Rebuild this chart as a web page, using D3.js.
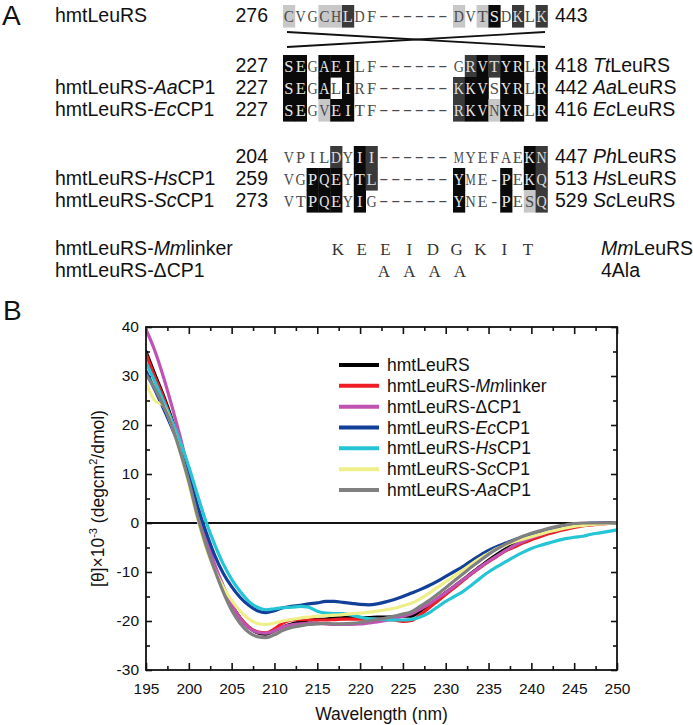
<!DOCTYPE html>
<html><head><meta charset="utf-8">
<script src="https://cdn.jsdelivr.net/npm/d3@7"></script>
<style>
body{margin:0;background:#fff}
svg{display:block}
text{font-family:"Liberation Sans",Arial,sans-serif;fill:#111}
</style>
</head><body>
<svg id="c" width="693" height="725"></svg>
<script>
// ---------------- DATA ----------------
// Panel A: alignment (odd indices of label arrays are italic)
const alnLabels = [["hmtLeuRS"], null, ["hmtLeuRS-","Aa","CP1"], ["hmtLeuRS-","Ec","CP1"], null, ["hmtLeuRS-","Hs","CP1"], ["hmtLeuRS-","Sc","CP1"]];
const alnStart = ["276","227","227","227","204","259","273"];
const alnLeft = ["CVGCHLDF","SEGAEILF","SEGALIRF","SEGVEITF","VPILDYII","VGPQEYTL","VTPQEYIG"];
const alnLeftShade = ["10011200","33033300","33030300","33013300","00002032","00333032","00333030"];
const alnRight = ["DVTSDKLK","GRVTYRLR","KKVSYRLR","RKVNYRLR","MYEFAEKN","YME-PEKQ","YNE-PESQ"];
const alnRightShade = ["10130202","02323303","23303303","23313303","00000032","30003032","30003012"];
const alnEnd = ["443","418","442","416","447","513","529"];
const alnSpecies = [null, ["","Tt","LeuRS"], ["","Aa","LeuRS"], ["","Ec","LeuRS"], ["","Ph","LeuRS"], ["","Hs","LeuRS"], ["","Sc","LeuRS"]];
const linkerLabel = ["hmtLeuRS-","Mm","linker"];
const linkerSeq = ["K","E","E","I","D","G","K","I","T"];
const linkerSpecies = ["","Mm","LeuRS"];
const deltaLabel = ["hmtLeuRS-ΔCP1"];
const deltaSeq = ["A","A","A","A"];
const deltaName = "4Ala";

// Panel B: CD spectra, one value per nm from 195 to 250
const wavelengths = d3.range(195, 251);
const sHmt = [35,30.5,26.2,21.3,15.8,9.5,2.5,-3.8,-8.8,-13, -16.6,-19.4,-21.3,-22.4,-22.7,-22,-21.2,-20.6,-20.2,-19.8, -19.7,-19.6,-19.4,-19.3,-19.3,-19.3,-19.3,-19.2,-19.2,-19.1, -19,-19,-18,-16.8,-15.5,-14.2,-12.9,-11.6,-10.2,-8.9, -7.6,-6.4,-5.3,-4.3,-3.5,-2.8,-2.2,-1.7,-1.3,-0.9, -0.6,-0.4,-0.2,-0.1,0,0];
const sMm = [34.5,30,25.8,20.8,15.2,9,2,-4,-9,-13.3, -16.8,-19.4,-21.2,-22.2,-22.4,-21.6,-20.4,-19.8,-19.7,-19.7, -19.8,-19.8,-19.7,-19.6,-19.6,-19.6,-19.6,-19.6,-19.7,-19.8, -20.1,-19.9,-18.8,-17.4,-16,-14.6,-13.2,-11.8,-10.4,-9.1, -7.9,-6.8,-5.7,-4.9,-4.1,-3.4,-2.8,-2.2,-1.7,-1.3, -0.9,-0.6,-0.4,-0.2,-0.1,0];
const sDelta = [39.5,35.3,30,24,17.5,10.5,3.5,-2.8,-8.3,-12.8, -16.6,-19.5,-21.4,-22.3,-22.5,-22,-21.2,-20.8,-20.6,-20.5, -20.5,-20.6,-20.7,-20.7,-20.7,-20.6,-20.4,-20.2,-19.9,-19.5, -19,-18.5,-17.6,-16.6,-15.4,-14.2,-12.9,-11.6,-10.3,-9, -7.8,-6.7,-5.6,-4.6,-3.8,-3,-2.4,-1.8,-1.3,-0.9, -0.6,-0.3,-0.1,0,0,0];
const sEc = [31,27.3,23.5,19.5,15,9.5,3.5,-1.8,-6.5,-10.2, -13,-15.2,-16.8,-17.9,-18.3,-17.9,-17.3,-17,-16.8,-16.5, -16.3,-16,-16,-16.2,-16.4,-16.6,-16.7,-16.5,-16.1,-15.6, -15,-14.3,-13.6,-12.8,-11.9,-10.9,-9.9,-8.9,-7.7,-6.6, -5.6,-4.8,-4.1,-3.4,-2.9,-2.4,-1.8,-1.3,-0.9,-0.6, -0.3,-0.1,0,0,0,0];
const sHs = [32.7,29,25,21,16.5,11.5,5.8,0.3,-4.3,-8.3, -11.5,-14,-16,-17.2,-17.7,-17.5,-17.3,-17.2,-17,-17.2, -18,-18.4,-18.5,-18.5,-18.8,-19.2,-19.5,-19.6,-19.7,-19.8, -19.8,-19.7,-19.2,-18.4,-17.2,-16,-15,-14,-12.7,-11.3, -10,-8.9,-7.9,-6.9,-6,-5.2,-4.6,-4.1,-3.6,-3.2, -2.9,-2.7,-2.3,-2,-1.7,-1.4];
const sSc = [28.6,25,24,20,14.5,8,1,-5,-9.5,-13, -15.8,-18,-19.6,-20.5,-20.7,-20.4,-20,-19.7,-19.4,-19.2, -19,-18.9,-18.8,-18.7,-18.5,-18.4,-18.2,-18,-17.7,-17.4, -16.9,-16.4,-15.5,-14.4,-13.2,-12,-10.8,-9.6,-8.4,-7.2, -6.2,-5.2,-4.5,-3.8,-3.3,-2.8,-2.3,-1.8,-1.4,-1, -0.7,-0.5,-0.3,-0.2,-0.1,0];
const sAa = [30.3,27.5,24,20,14.5,8.5,1.5,-4.5,-9.5,-14, -17.8,-20.5,-22.3,-23.2,-23.4,-22.8,-21.9,-21.3,-21,-20.7, -20.6,-20.5,-20.6,-20.6,-20.5,-20.3,-20,-19.7,-19.4,-19, -18.6,-18.1,-17,-15.9,-14.6,-13.2,-11.8,-10.4,-9,-7.7, -6.4,-5.3,-4.3,-3.5,-2.7,-2.1,-1.6,-1.1,-0.7,-0.4, -0.1,0,0,0,0,0];
const seriesLabels = [["hmtLeuRS"],["hmtLeuRS-","Mm","linker"],["hmtLeuRS-ΔCP1"],["hmtLeuRS-","Ec","CP1"],["hmtLeuRS-","Hs","CP1"],["hmtLeuRS-","Sc","CP1"],["hmtLeuRS-","Aa","CP1"]];
const seriesValues = [sHmt, sMm, sDelta, sEc, sHs, sSc, sAa];
const seriesColors = ["#000000","#ee1c24","#c052b2","#123f98","#25c5d5","#efef8a","#808080"];
const xMajorTicks = d3.range(195, 251, 5);
const yMajorTicks = d3.range(-30, 41, 10);

// ---------------- HELPERS ----------------
const svg = d3.select("#c");
function rich(sel, parts){
  parts.forEach((p,i)=>{ if(p!=="") sel.append("tspan").attr("font-style", i%2 ? "italic" : "normal").text(p); });
  return sel;
}

// ---------------- PANEL A ----------------
const A = svg.append("g");
A.append("text").attr("x",2).attr("y",25).attr("font-size",28).text("A");
const rowBase = d3.scaleOrdinal().domain(d3.range(7)).range([22,72,94,116,163,185,207]);
const cw = 11.8, rowH = 22.2;
const leftCol = d3.scaleBand().domain(d3.range(8)).range([283, 283+8*cw]);
const dashCol = d3.scaleBand().domain(d3.range(6)).range([378, 378+6*cw]);
const rightCol = d3.scaleBand().domain(d3.range(8)).range([453, 453+8*cw]);
const shadeFill = d3.scaleOrdinal().domain(["0","1","2","3"]).range(["none","#c8c8c8","#3a3a3a","#0a0a0a"]);
const shadeText = d3.scaleOrdinal().domain(["0","1","2","3"]).range(["#4a4a4a","#4a4a4a","#dcdcdc","#e6e6e6"]);
const seqFont = '"Liberation Serif","Times New Roman",serif';
const maxGlyph = cw - 1.6;

alnLeft.forEach((seq,i)=>{
  const b = rowBase(i);
  const g = A.append("g");
  if(alnLabels[i]) rich(g.append("text").attr("x",55).attr("y",b).attr("font-size",19.5), alnLabels[i]);
  g.append("text").attr("x",268).attr("y",b).attr("font-size",19.5).attr("text-anchor","end").text(alnStart[i]);
  const blocks = [[seq, alnLeftShade[i], leftCol],[alnRight[i], alnRightShade[i], rightCol]];
  blocks.forEach(([s, sh, col])=>{
    const cells = s.split("").map((c,k)=>({c, k, sh: sh[k]}));
    g.selectAll(null).data(cells.filter(d=>d.sh!=="0")).join("rect")
      .attr("x", d=>col(d.k)).attr("y", b-17).attr("width", cw+0.4).attr("height", rowH+0.4)
      .attr("fill", d=>shadeFill(d.sh));
    g.selectAll(null).data(cells).join("text")
      .attr("transform", d=>`translate(${col(d.k)+cw/2},${b})`).attr("text-anchor","middle")
      .style("font-family", seqFont).attr("font-size",16.5)
      .style("fill", d=>shadeText(d.sh)).text(d=>d.c)
      .each(function(d){
        const w = this.getComputedTextLength();
        if(w > maxGlyph){
          d3.select(this).attr("transform", `translate(${col(d.k)+cw/2},${b}) scale(${maxGlyph/w},1)`);
        }
      });
  });
  g.selectAll(null).data(d3.range(6)).join("text")
    .attr("transform", k=>`translate(${dashCol(k)+cw/2},${b-1}) scale(1.6,1)`).attr("text-anchor","middle")
    .style("font-family", seqFont).attr("font-size",17).style("fill","#4a4a4a").text("-");
  const t = g.append("text").attr("x",555).attr("y",b).attr("font-size",19.5);
  t.append("tspan").text(alnEnd[i] + (alnSpecies[i] ? " " : ""));
  if(alnSpecies[i]) rich(t, alnSpecies[i]);
});
// crossing lines between hmtLeuRS and TtLeuRS
A.append("path").attr("d", d3.line()([[287,32],[545,47]])).attr("stroke","#111").attr("stroke-width",1.8).attr("fill","none");
A.append("path").attr("d", d3.line()([[287,47],[545,32]])).attr("stroke","#111").attr("stroke-width",1.8).attr("fill","none");

// linker rows
const linkX = d3.scalePoint().domain(d3.range(linkerSeq.length)).range([338, 528]);
const alaX = d3.scalePoint().domain(d3.range(deltaSeq.length)).range([384, 460]);
rich(A.append("text").attr("x",55).attr("y",255).attr("font-size",19.5), linkerLabel);
A.selectAll(null).data(linkerSeq).join("text").attr("x",(d,i)=>linkX(i)).attr("y",255)
  .attr("text-anchor","middle").style("font-family",seqFont).attr("font-size",17).style("fill","#333").text(d=>d);
rich(A.append("text").attr("x",601).attr("y",255).attr("font-size",19.5), linkerSpecies);
rich(A.append("text").attr("x",55).attr("y",277).attr("font-size",19.5), deltaLabel);
A.selectAll(null).data(deltaSeq).join("text").attr("x",(d,i)=>alaX(i)).attr("y",277)
  .attr("text-anchor","middle").style("font-family",seqFont).attr("font-size",17).style("fill","#333").text(d=>d);
A.append("text").attr("x",601).attr("y",277).attr("font-size",19.5).text(deltaName);

// ---------------- PANEL B ----------------
const B = svg.append("g");
B.append("text").attr("x",3).attr("y",320).attr("font-size",28).text("B");
const L = 146, R = 617, T = 327, Bt = 670;
const x = d3.scaleLinear().domain([195,250]).range([L,R]);
const y = d3.scaleLinear().domain([-30,40]).range([Bt,T]);

const axisStyle = g => { g.select(".domain").remove(); g.selectAll("line").attr("stroke","#111").attr("stroke-width",1.6);
  g.selectAll("text").attr("font-size",15.5).style("font-family",'"Liberation Sans",Arial,sans-serif').style("fill","#111"); };
const xMinor = d3.range(197.5, 250, 5);
const yMinor = d3.range(-25, 40, 10);
B.append("g").attr("transform",`translate(0,${Bt})`).call(d3.axisBottom(x).tickValues(xMajorTicks).tickSize(-7).tickPadding(13).tickFormat(d3.format("d"))).call(axisStyle);
B.append("g").attr("transform",`translate(0,${Bt})`).call(d3.axisBottom(x).tickValues(xMinor).tickSize(-4).tickFormat("")).call(axisStyle);
B.append("g").attr("transform",`translate(0,${T})`).call(d3.axisTop(x).tickValues(xMajorTicks).tickSize(-7).tickFormat("")).call(axisStyle);
B.append("g").attr("transform",`translate(0,${T})`).call(d3.axisTop(x).tickValues(xMinor).tickSize(-4).tickFormat("")).call(axisStyle);
B.append("g").attr("transform",`translate(${L},0)`).call(d3.axisLeft(y).tickValues(yMajorTicks).tickSize(-6).tickPadding(7).tickFormat(d3.format("d"))).call(axisStyle);
B.append("g").attr("transform",`translate(${L},0)`).call(d3.axisLeft(y).tickValues(yMinor).tickSize(-4).tickFormat("")).call(axisStyle);
B.append("g").attr("transform",`translate(${R},0)`).call(d3.axisRight(y).tickValues(yMajorTicks).tickSize(-6).tickFormat("")).call(axisStyle);
B.append("g").attr("transform",`translate(${R},0)`).call(d3.axisRight(y).tickValues(yMinor).tickSize(-4).tickFormat("")).call(axisStyle);
// negative tick labels use hyphen-minus like the reference
B.selectAll("text").filter(function(){return /^\u2212/.test(this.textContent);}).text(function(){return this.textContent.replace("\u2212","-");});

// zero line
B.append("line").attr("x1",x(195)).attr("x2",x(250)).attr("y1",y(0)).attr("y2",y(0)).attr("stroke","#111").attr("stroke-width",2);

// curves
const clipId = "plotclip";
svg.append("clipPath").attr("id",clipId).append("rect").attr("x",L).attr("y",T).attr("width",R-L).attr("height",Bt-T);
const line = d3.line().x((d,i)=>x(wavelengths[i])).y(d=>y(d)).curve(d3.curveMonotoneX);
B.append("g").attr("clip-path",`url(#${clipId})`).selectAll("path").data(seriesValues).join("path")
  .attr("d", d=>line(d)).attr("fill","none").attr("stroke",(d,i)=>seriesColors[i])
  .attr("stroke-width",3.2).attr("stroke-linejoin","round").attr("stroke-linecap","round");

// frame
B.append("rect").attr("x",L).attr("y",T).attr("width",R-L).attr("height",Bt-T).attr("fill","none").attr("stroke","#111").attr("stroke-width",1.8);

// legend
const legY = d3.scalePoint().domain(d3.range(seriesLabels.length)).range([365, 490]);
const leg = B.append("g");
seriesLabels.forEach((lab,i)=>{
  leg.append("line").attr("x1",339).attr("x2",379).attr("y1",legY(i)).attr("y2",legY(i)).attr("stroke",seriesColors[i]).attr("stroke-width",4);
  rich(leg.append("text").attr("x",387).attr("y",legY(i)+6).attr("font-size",17.5), lab);
});

// axis titles
B.append("text").attr("x",(L+R)/2).attr("y",720).attr("text-anchor","middle").attr("font-size",17.5).text("Wavelength (nm)");
const yt = B.append("text").attr("transform",`translate(104,${(T+Bt)/2}) rotate(-90)`).attr("text-anchor","middle").attr("font-size",17.5);
yt.append("tspan").text("[θ]×10");
yt.append("tspan").attr("font-size",11).attr("dy",-7).text("-3");
yt.append("tspan").attr("dy",7).text(" (degcm");
yt.append("tspan").attr("font-size",11).attr("dy",-7).text("2");
yt.append("tspan").attr("dy",7).text("/dmol)");
</script>
</body></html>
